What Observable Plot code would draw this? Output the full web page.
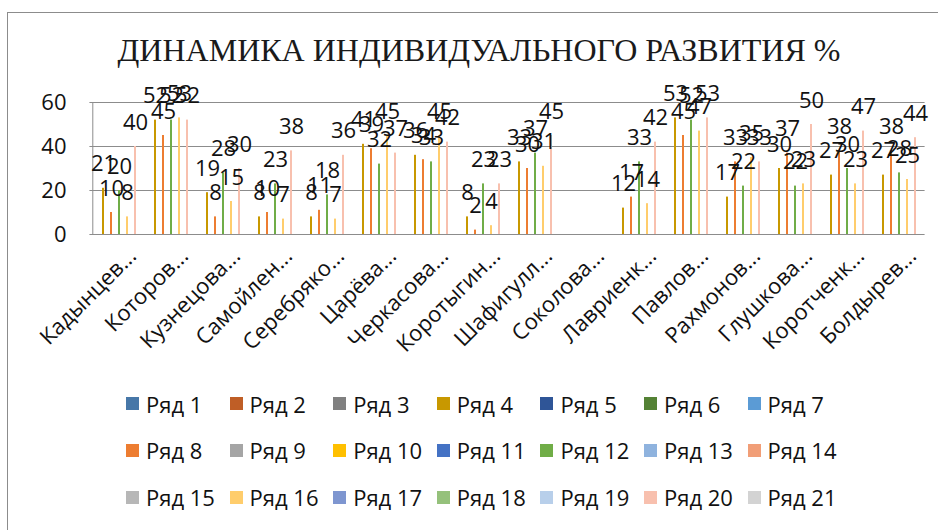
<!DOCTYPE html>
<html><head><meta charset="utf-8">
<script src="https://cdn.jsdelivr.net/npm/d3@7"></script>
<script src="https://cdn.jsdelivr.net/npm/@observablehq/plot@0.6"></script>
<style>
body{margin:0;background:#fff;}
#wrap{position:relative;width:938px;height:530px;overflow:hidden;font-family:"Open Sans",sans-serif;background:#fff;}
#border{position:absolute;left:7px;top:12px;width:960px;height:560px;border:1px solid #8c8c8c;}
#title{position:absolute;left:10px;width:938px;top:30px;text-align:center;font-family:"Liberation Serif",serif;font-size:32px;line-height:40px;color:#1a1a1a;white-space:nowrap;}
#chart{position:absolute;left:0;top:0;}
#legend{position:absolute;left:0;top:0;width:938px;height:530px;}
.item{position:absolute;display:flex;align-items:center;font-size:22px;line-height:26px;color:#111;white-space:nowrap;transform:translateY(-50%);}
.sw{width:13px;height:13px;margin-right:7px;flex:none;}
</style>
</head><body>
<div id="wrap">
  <div id="border"></div>
  <div id="title">ДИНАМИКА ИНДИВИДУАЛЬНОГО РАЗВИТИЯ %</div>
  <div id="chart"></div>
  <div id="legend"></div>
</div>
<script>
const categories = ["Кадынцев...","Которов...","Кузнецова...","Самойлен...","Серебряко...","Царёва...","Черкасова...","Коротыгин...","Шафигулл...","Соколова...","Лавриенк...","Павлов...","Рахмонов...","Глушкова...","Коротченк...","Болдырев..."];
const seriesNames = ["Ряд 1","Ряд 2","Ряд 3","Ряд 4","Ряд 5","Ряд 6","Ряд 7","Ряд 8","Ряд 9","Ряд 10","Ряд 11","Ряд 12","Ряд 13","Ряд 14","Ряд 15","Ряд 16","Ряд 17","Ряд 18","Ряд 19","Ряд 20","Ряд 21"];
const seriesColors = ["#4777a8","#bf5e26","#808080","#c89800","#2f5597","#548235","#5b9bd5","#ed7d31","#a5a5a5","#ffc000","#4472c4","#70ad47","#8fb3de","#f19e77","#b7b7b7","#ffcd6c","#7e96d0","#95c17b","#b8cfea","#f8c0ae","#d3d3d3"];
const yTicks = [0, 20, 40, 60];

// only these series carry values; the others are empty
const ryad4  = [21, 52, 19,  8,  8, 41, 36,  8, 33, null, 12, 53, 17, 30, 27, 27];
const ryad8  = [10, 45,  8, 10, 11, 39, 34,  2, 30, null, 17, 45, 33, 37, 38, 38];
const ryad12 = [20, 52, 28, 23, 18, 32, 33, 23, 37, null, 33, 52, 22, 22, 30, 28];
const ryad16 = [ 8, 53, 15,  7,  7, 45, 45,  4, 31, null, 14, 47, 35, 23, 23, 25];
const ryad20 = [40, 52, 30, 38, 36, 37, 42, 23, 45, null, 42, 53, 33, 50, 47, 44];

const seriesValues = {"Ряд 4": ryad4, "Ряд 8": ryad8, "Ряд 12": ryad12, "Ряд 16": ryad16, "Ряд 20": ryad20};

// every category × series pair (empty ones keep value null so all facets exist)
const rows = [];
categories.forEach((cat, i) => {
  seriesNames.forEach(s => {
    const arr = seriesValues[s];
    rows.push({cat, series: s, value: arr ? arr[i] : null});
  });
});
const labelled = rows.filter(d => d.value != null);

const chart = Plot.plot({
  width: 938,
  height: 380,
  marginTop: 102,
  marginBottom: 146,
  marginLeft: 93,
  marginRight: 16,
  style: {fontFamily: "Open Sans, sans-serif", fontSize: "22px", color: "#111", background: "transparent", overflow: "visible"},
  fx: {domain: categories, padding: 0.07, label: null},
  x: {domain: seriesNames, padding: 0, axis: null},
  y: {domain: [0, 60], label: null},
  color: {domain: seriesNames, range: seriesColors},
  marks: [
    Plot.ruleY(yTicks, {stroke: "#8c8c8c", strokeWidth: 1, insetLeft: -3.6, insetRight: -3.6}),
    // value axis line, left of the first category
    Plot.ruleX([{cat: categories[0], series: seriesNames[0]}], {fx: "cat", x: "series", y1: yTicks[0], y2: yTicks[yTicks.length - 1], stroke: "#8c8c8c", dx: -4.7}),
    Plot.barY(rows, {fx: "cat", x: "series", y: "value", fill: "series"}),
    Plot.text(labelled, {fx: "cat", x: "series", y: "value", text: "value", dy: -24, fontSize: 22, fill: "#111"}),
    Plot.axisY({ticks: yTicks, tickSize: 0, tickPadding: 27, fontSize: 22, label: null}),
    Plot.axisFx({anchor: "bottom", tickRotate: -45, tickSize: 0, tickPadding: 18, dx: 15, fontSize: 22, label: null})
  ]
});
document.getElementById("chart").appendChild(chart);

// legend
const legend = document.getElementById("legend");
seriesNames.forEach((s, i) => {
  const col = i % 7, row = Math.floor(i / 7);
  const it = document.createElement("div");
  it.className = "item";
  it.style.left = (126 + 103.6 * col) + "px";
  it.style.top = (403.5 + 46.8 * row) + "px";
  const sw = document.createElement("span");
  sw.className = "sw";
  sw.style.background = seriesColors[i];
  const tx = document.createElement("span");
  tx.textContent = s;
  it.appendChild(sw); it.appendChild(tx);
  legend.appendChild(it);
});
</script>
</body></html>
